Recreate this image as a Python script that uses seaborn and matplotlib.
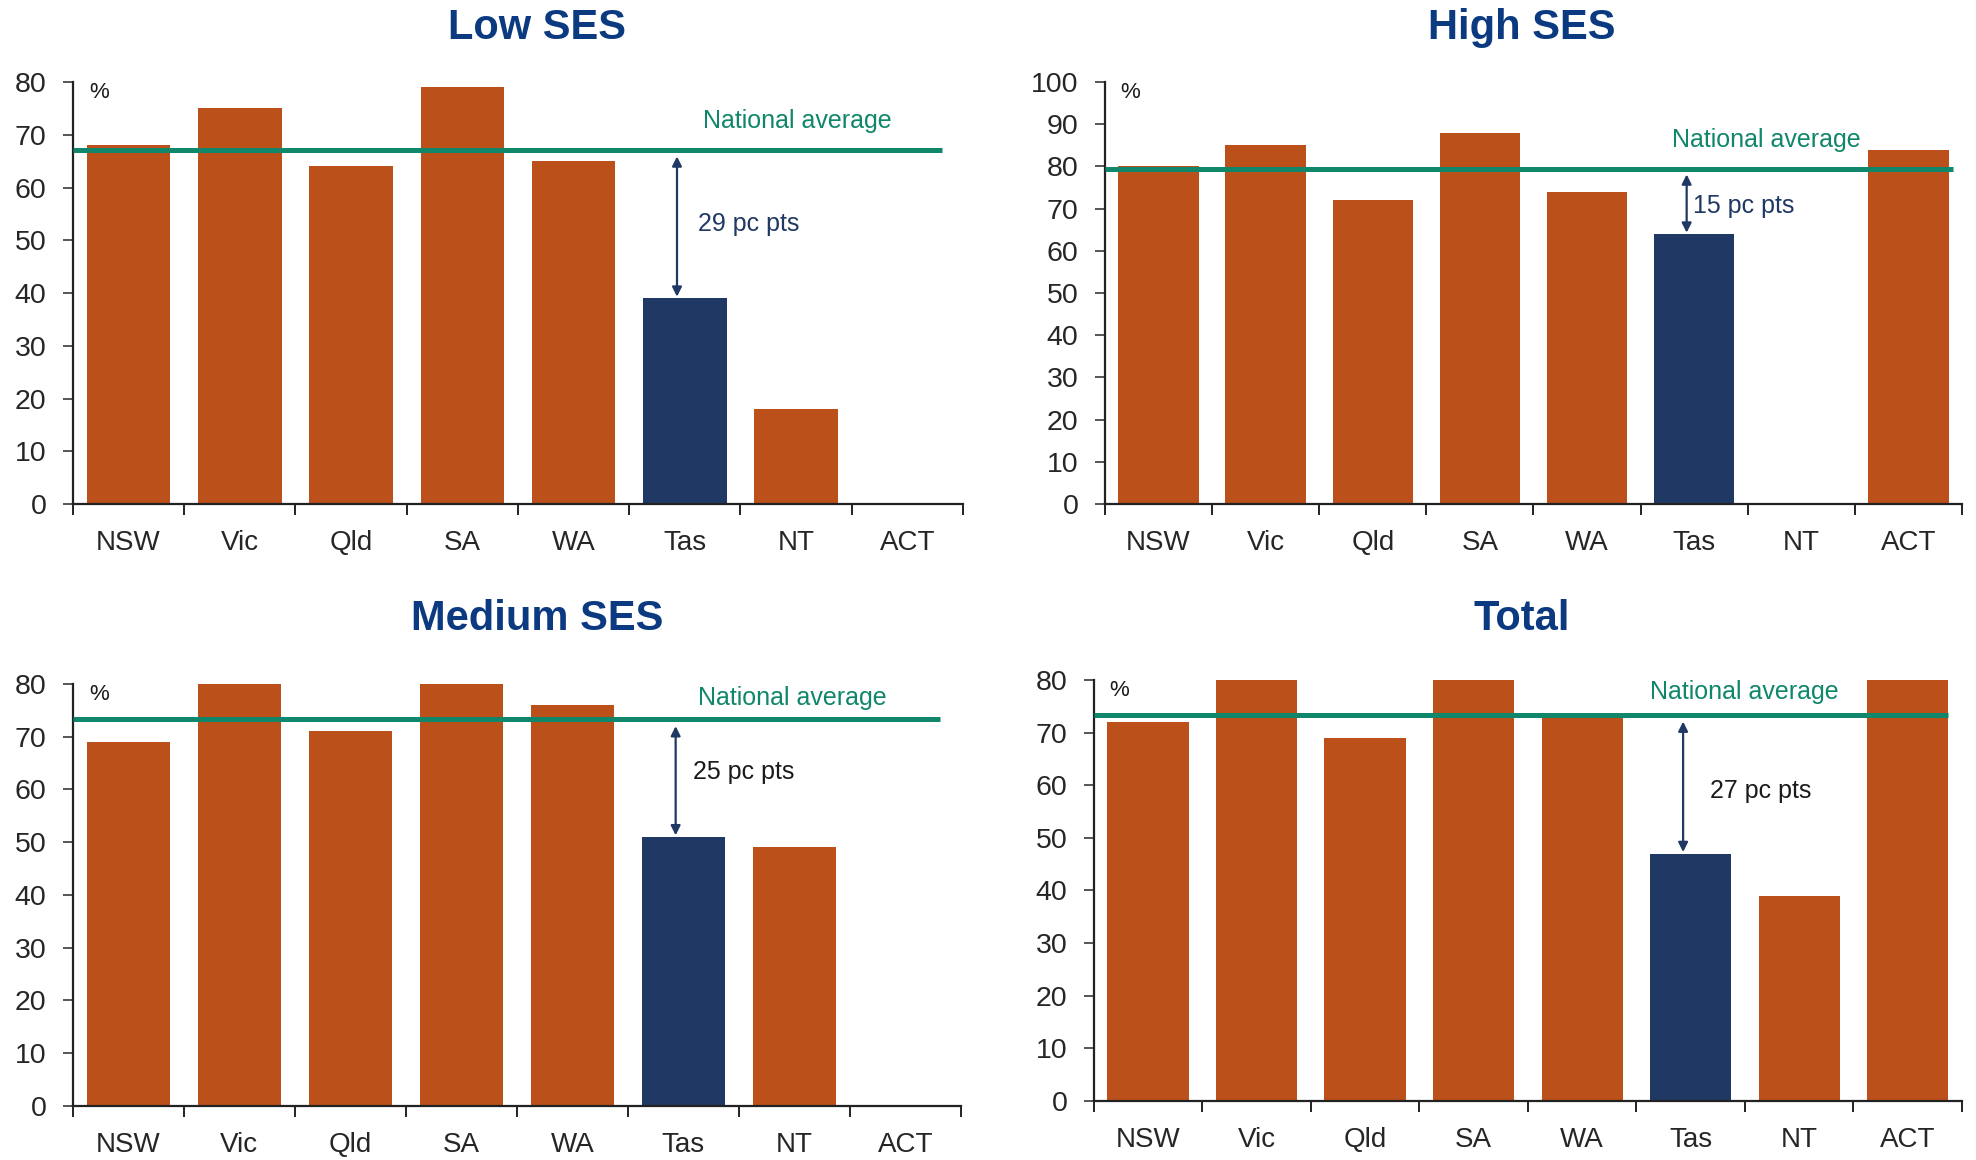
import matplotlib
matplotlib.use("Agg")
import matplotlib.pyplot as plt
import seaborn as sns
import numpy as np
from matplotlib.ticker import MultipleLocator, FixedLocator

states = ["NSW", "Vic", "Qld", "SA", "WA", "Tas", "NT", "ACT"]

low_ses = [68, 75, 64, 79, 65, 39, 18, np.nan]
high_ses = [80, 85, 72, 88, 74, 64, np.nan, 84]
medium_ses = [69, 80, 71, 80, 76, 51, 49, np.nan]
total = [72, 80, 69, 80, 73, 47, 39, 80]

national_avg = {"Low SES": 67.2, "High SES": 79.4, "Medium SES": 73.3, "Total": 73.4}
gap_labels = {"Low SES": "29 pc pts", "High SES": "15 pc pts",
              "Medium SES": "25 pc pts", "Total": "27 pc pts"}

ORANGE = "#BC501A"
NAVY = "#203864"
GREEN = "#10876A"
TITLE_BLUE = "#0B3A80"

sns.set_theme(style="white")
# no narrow face available, so sizes are trimmed a bit to keep widths close
plt.rcParams["font.family"] = ["Liberation Sans Narrow", "Liberation Sans", "DejaVu Sans"]

fig = plt.figure(figsize=(19.76, 11.6), dpi=100)

# panel name, data, axes rect, ymax, title pos, label pos, line end, gap text pos, gap text colour
panels = [
    ("Low SES", low_ses, [0.0369, 0.5655, 0.4504, 0.3638], 80, (0.272, 0.976),
     (6.86, 72.6), 7.31, (5.12, 53), NAVY),
    ("High SES", high_ses, [0.5592, 0.5655, 0.4337, 0.3638], 100, (0.770, 0.976),
     (6.55, 86.3), 7.42, (4.99, 70.7), NAVY),
    ("Medium SES", medium_ses, [0.0369, 0.0466, 0.4494, 0.3638], 80, (0.272, 0.466),
     (6.83, 77.4), 7.31, (5.09, 63.3), "#1a1a1a"),
    ("Total", total, [0.5536, 0.0509, 0.4393, 0.3629], 80, (0.770, 0.466),
     (6.36, 77.8), 7.37, (5.18, 58.9), "#1a1a1a"),
]

palette = [ORANGE, ORANGE, ORANGE, ORANGE, ORANGE, NAVY, ORANGE, ORANGE]

for name, vals, rect, ymax, tpos, lpos, line_end, gpos, gcol in panels:
    ax = fig.add_axes(rect)
    sns.barplot(x=states, y=vals, hue=states, palette=palette, order=states,
                hue_order=states, legend=False, width=0.75, saturation=1,
                edgecolor="none", ax=ax)
    ax.set_xlim(-0.5, 7.5)
    ax.set_ylim(0, ymax)
    ax.yaxis.set_major_locator(MultipleLocator(10))
    ax.xaxis.set_minor_locator(FixedLocator(np.arange(-0.5, 8, 1)))

    for s in ["top", "right"]:
        ax.spines[s].set_visible(False)
    for s in ["left", "bottom"]:
        ax.spines[s].set_color("#222222")
        ax.spines[s].set_linewidth(1.6)

    ax.tick_params(axis="y", which="major", direction="out", length=7, width=1.4,
                   color="#555555", labelsize=20.5, pad=12, left=True)
    ax.tick_params(axis="x", which="major", length=0, labelsize=20, pad=19)
    ax.tick_params(axis="x", which="minor", direction="out", length=8, width=1.4,
                   color="#222222", bottom=True)
    ax.set_xlabel("")
    ax.set_ylabel("")

    avg = national_avg[name]
    ax.hlines(avg, -0.5, line_end, color=GREEN, lw=3.6, zorder=3)
    ax.text(lpos[0], lpos[1], "National average", color=GREEN, fontsize=18,
            ha="right", va="center")

    tas = vals[states.index("Tas")]
    ax.annotate("", xy=(4.93, tas + 0.3), xytext=(4.93, avg - 1.3),
                arrowprops=dict(arrowstyle="<|-|>", color=NAVY, lw=1.6,
                                mutation_scale=14, shrinkA=0, shrinkB=0))
    ax.text(gpos[0], gpos[1], gap_labels[name], color=gcol, fontsize=18,
            ha="left", va="center")

    ax.text(0.018, 1.0, "%", transform=ax.transAxes, fontsize=16,
            ha="left", va="top", color="#1a1a1a")

    fig.text(tpos[0], tpos[1], name, fontsize=30, fontweight="bold",
             color=TITLE_BLUE, ha="center", va="center")

fig.savefig("out.png", dpi=100, facecolor="white")
